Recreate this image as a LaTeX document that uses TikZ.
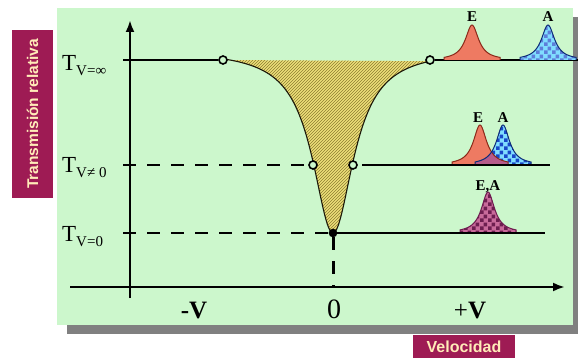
\documentclass[tikz,border=0pt]{standalone}
\usepackage{fontspec}
\setmainfont{Liberation Serif}
\setsansfont{Liberation Sans}
\usepackage{tikz}
\usetikzlibrary{calc, arrows.meta, patterns, patterns.meta}
\definecolor{PanelGreen}{HTML}{CCF7CC}
\definecolor{ShadowGray}{HTML}{808080}
\definecolor{LabelMaroon}{HTML}{9E1B54}
\definecolor{LabelCream}{HTML}{FFEBB8}
\definecolor{DipYellow}{HTML}{EEE07A}
\definecolor{DipHatch}{HTML}{8C7C30}
\definecolor{PeakSalmon}{HTML}{EE7A62}
\definecolor{PeakEdge}{HTML}{8A2A1A}
\definecolor{PeakCyan}{HTML}{80DDFF}
\definecolor{PeakBlue}{HTML}{1848C8}
\definecolor{PeakPink}{HTML}{C86A9A}
\definecolor{PeakPlum}{HTML}{6E1E50}

\tikzdeclarepattern{
  name=checks,
  type=uncolored,
  bottom left={(0pt,0pt)},
  top right={(8pt,8pt)},
  tile size={(8pt,8pt)},
  code={
    \fill (0pt,0pt) rectangle (4pt,4pt);
    \fill (4pt,4pt) rectangle (8pt,8pt);
  }
}

% peak: centre, base line, height
\newcommand{\peak}[3]{({#1-28},#2) -- plot[domain=-28:28, samples=57] ({#1+\x},{#2-#3/(1+(\x/8)^2)}) -- ({#1+28},#2)}
% level label T with its subscript
\newcommand{\tlev}[1]{T\raisebox{-5pt}{\fontsize{15}{15}\selectfont #1}}

\begin{document}
\begin{tikzpicture}[x=1pt, y=-1pt,
    axisline/.style={line width=2.4pt, -{Latex[length=12pt, width=9pt]}},
    levelline/.style={line width=1.8pt},
    guideline/.style={line width=2pt, dash pattern=on 13pt off 11pt},
    dot/.style={circle, draw, line width=1.6pt, fill=PanelGreen, inner sep=0pt, minimum size=8pt},
    tlabel/.style={anchor=base west, inner sep=0pt, font=\fontsize{23}{23}\selectfont},
    vlabel/.style={anchor=base, inner sep=0pt, font=\fontsize{24}{24}\selectfont},
    peaklabel/.style={anchor=base, inner sep=0pt, font=\bfseries\fontsize{15}{15}\selectfont},
    tagbox/.style={fill=LabelMaroon, text=LabelCream, inner sep=0pt, font=\sffamily\bfseries\fontsize{15.5}{15.5}\selectfont}
  ]
  \useasboundingbox (0,0) rectangle (578,358);

  % panel
  \fill[ShadowGray] (67,17) rectangle (578,334);
  \fill[PanelGreen] (57,8) rectangle (573,325);

  % dip
  \coordinate (dipTop) at (223,60);
  \fill[DipYellow] (dipTop) -- plot[domain=223:430, samples=150] (\x,{60+183.3*(1/(1+((\x-333)/25)^2)-0.0556)}) -- cycle;
  \fill[pattern=north east lines, pattern color=DipHatch] (dipTop) -- plot[domain=223:430, samples=150] (\x,{60+183.3*(1/(1+((\x-333)/25)^2)-0.0556)}) -- cycle;
  \draw[line width=1.1pt, black!80!DipHatch] plot[domain=223:430, samples=150] (\x,{60+183.3*(1/(1+((\x-333)/25)^2)-0.0556)});

  % axes
  \coordinate (xstart) at (70,287);
  \coordinate (xend) at (565,287);
  \coordinate (ybottom) at (130,298);
  \coordinate (ytop) at (130,20);
  \draw[axisline] (xstart) -- (xend);
  \draw[axisline] (ybottom) -- (ytop);

  % levels
  \coordinate (tinf) at (123,60);
  \coordinate (tneq) at (123,165);
  \coordinate (tzero) at (123,233);
  \coordinate (topEnd) at (578,60);
  \coordinate (midEnd) at (550,165);
  \coordinate (lowEnd) at (545,233);
  \node[dot] (dipL) at (223,60) {};
  \node[dot] (dipR) at (430,60) {};
  \node[dot] (midL) at (313,165) {};
  \node[dot] (midR) at (353,165) {};
  \node[dot, fill=black, minimum size=7pt] (low) at (333,233) {};
  \draw[levelline] (tinf) -- (dipL);
  \draw[levelline] (dipR) -- (topEnd);
  \draw[guideline] (tneq) -- (midL);
  \draw[guideline] (tzero) -- (low);
  \draw[guideline, line width=3pt] (low) -- (low |- xstart);

  % peaks at v = infinity
  \fill[PeakSalmon] \peak{472}{60}{35} -- cycle;
  \draw[PeakEdge, line width=1pt] \peak{472}{60}{35};
  \fill[PeakCyan] \peak{548}{60}{35} -- cycle;
  \fill[pattern=checks, pattern color=PeakBlue!70] \peak{548}{60}{35} -- cycle;
  \draw[PeakBlue!60!black, line width=1pt] \peak{548}{60}{35};
  \node[peaklabel] (eTop) at (472,22) {E};
  \node[peaklabel] (aTop) at (548,22) {A};

  % peaks at v not 0
  \fill[PeakSalmon] \peak{480}{165}{40} -- cycle;
  \fill[PeakCyan] \peak{503}{165}{40} -- cycle;
  \fill[pattern=checks, pattern color=PeakBlue] \peak{503}{165}{40} -- cycle;
  \begin{scope}
    \clip \peak{480}{165}{40} -- cycle;
    \fill[PeakPink!80!PeakPlum] \peak{503}{165}{40} -- cycle;
  \end{scope}
  \draw[PeakEdge, line width=1pt] \peak{480}{165}{40};
  \draw[PeakBlue!60!black, line width=1pt] \peak{503}{165}{40};
  \draw[levelline] ($(midR)+(9,0)$) -- (midEnd);
  \node[peaklabel] (eMid) at (478,123) {E};
  \node[peaklabel] (aMid) at (503,123) {A};

  % peak at v = 0
  \fill[PeakPink] \peak{488}{233}{41} -- cycle;
  \fill[pattern=checks, pattern color=PeakPlum] \peak{488}{233}{41} -- cycle;
  \draw[PeakPlum, line width=1pt] \peak{488}{233}{41};
  \draw[levelline] (low) -- (lowEnd);
  \node[peaklabel] (eaLow) at (488,190) {E,A};

  % labels
  \node[tlabel] (tInfLab) at (62,71) {\tlev{V=∞}};
  \node[tlabel] (tNeqLab) at (62,173) {\tlev{V≠ 0}};
  \node[tlabel] (tZeroLab) at (62,241) {\tlev{V=0}};
  \node[vlabel, font=\bfseries\fontsize{25}{25}\selectfont] (minusV) at (194,318) {-V};
  \node[vlabel, font=\fontsize{28}{28}\selectfont] (zeroV) at (334,318) {0};
  \node[vlabel, font=\fontsize{25}{25}\selectfont] (plusV) at (470,318) {+\textbf{V}};

  \node[tagbox, rotate=90, minimum width=168pt, minimum height=41pt] (ylab) at (32.5,114) {Transmisión relativa};
  \node[tagbox, minimum width=102pt, minimum height=24pt, font=\sffamily\bfseries\fontsize{16}{16}\selectfont] (xlab) at (464,347) {Velocidad};
\end{tikzpicture}
\end{document}
